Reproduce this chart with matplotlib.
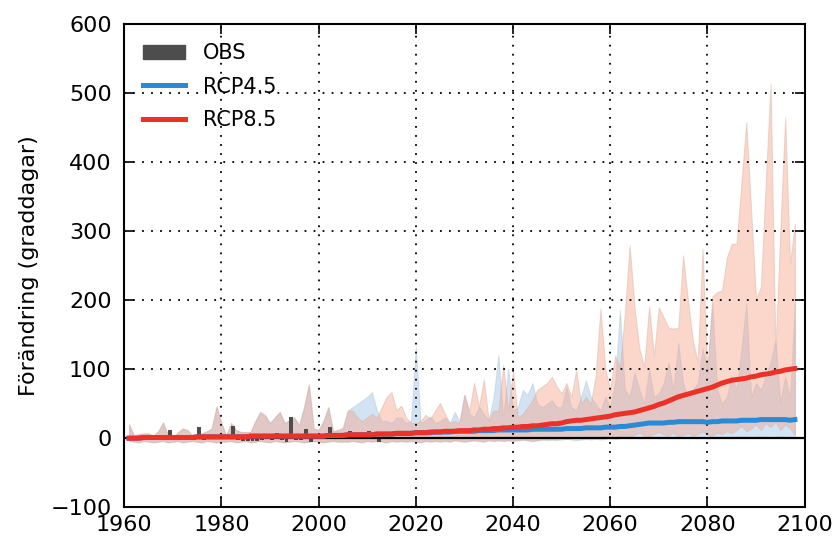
import numpy as np
import matplotlib.pyplot as plt
from matplotlib.patches import Patch
from matplotlib.lines import Line2D

# Års-data (graddagar, förändring mot referens)
ar = np.arange(1961, 2099)

# Observationer 1961-2013
obs_ar = np.arange(1961, 2014)
obs = [0, -2, 0, 1, 0, 2, 1, 0, 12, 0,
       -1, 1, 0, -2, 16, -2, 0, 0, -1, 0,
       1, 17, -2, -4, -4, -4, -4, -3, -1, -3,
       8, -2, -5, 31, -2, -3, 14, -5, -1, 0,
       0, 16, 0, 0, 1, 10, 0, 0, 0, 10,
       0, -5, 0]

# Historisk spridning (gemensam 1961-2005)
hist_hog = [20, 4, 6, 7, 7, 4, 10, 23, 4, 1,
            8, 14, 12, 4, 5, 7, 10, 14, 46, 22,
            4, 22, 12, 9, 9, 9, 25, 38, 33, 22,
            30, 38, 22, 26, 30, 19, 45, 78, 14, 12,
            25, 45, 10, 12, 15]
hist_lag = [-4, -5, -6, -4, -5, -6, -5, -4, -6, -5,
            -4, -6, -5, -4, -5, -6, -4, -5, -6, -5,
            -5, -4, -6, -5, -4, -6, -5, -4, -5, -6,
            -4, -5, -6, -5, -4, -5, -6, -5, -4, -5,
            -6, -5, -4, -5, -5]

# Scenarier 2006-2098
rcp45_hog = [40, 45, 50, 55, 60, 67, 40, 25, 25, 22,
             30, 30, 22, 25, 133, 22, 26, 32, 22, 25,
             30, 22, 38, 25, 63, 36, 30, 46, 35, 26,
             60, 121, 30, 101, 40, 45, 70, 63, 80, 50,
             45, 50, 55, 45, 45, 74, 45, 40, 60, 84,
             60, 50, 40, 60, 45, 80, 186, 70, 60, 95,
             70, 50, 100, 60, 65, 80, 110, 70, 138, 80,
             60, 70, 80, 130, 100, 195, 70, 50, 60, 90,
             70, 130, 196, 60, 80, 70, 90, 110, 142, 52,
             90, 60, 196]
rcp85_hog = [40, 40, 30, 25, 30, 35, 30, 45, 60, 67,
             41, 47, 30, 22, 22, 25, 34, 28, 40, 51,
             35, 22, 25, 22, 63, 40, 80, 46, 85, 26,
             40, 40, 106, 40, 98, 30, 35, 45, 55, 70,
             75, 80, 89, 75, 65, 80, 60, 99, 50, 60,
             50, 90, 188, 100, 70, 120, 103, 180, 280, 190,
             130, 104, 191, 120, 190, 175, 160, 159, 160, 265,
             200, 142, 110, 275, 94, 205, 212, 214, 262, 282,
             282, 370, 458, 330, 203, 219, 370, 514, 128, 300,
             465, 254, 311]
rcp45_lag = [-5, -4, -5, -6, -4, -5, -4, -5, -6, -4,
             -5, -4, -5, -4, -5, -6, -4, -5, -4, -5,
             -4, -5, -3, -4, -5, -4, -3, -4, -5, -3,
             -4, -3, -4, -3, -4, -3, -2, -3, -4, -3,
             -2, -3, -2, -3, -2, -1, -2, -3, -2, -1,
             -2, -1, -2, -1, 0, -1, 0, 1, 0, 1,
             0, 1, 2, 1, 0, 1, 2, 1, 0, 1,
             2, 1, 0, 1, 0, 1, 2, 1, 2, 1,
             2, 3, 2, 1, 2, 3, 2, 1, 2, 3,
             2, 1, 0]
rcp85_lag = [-5, -4, -5, -6, -4, -5, -4, -5, -6, -4,
             -5, -4, -5, -4, -5, -6, -4, -5, -4, -5,
             -4, -5, -3, -4, -5, -4, -3, -4, -5, -3,
             -4, -3, -4, -3, -4, -3, -2, -3, -4, -3,
             -2, -1, -2, -1, 0, -1, 0, 1, 0, 1,
             2, 1, 2, 3, 2, 1, 3, 4, 2, 5,
             8, 4, 3, 6, 9, 5, 4, 8, 3, 5,
             7, 4, 6, 10, 5, 4, 8, 6, 10, 7,
             12, 18, 10, 14, 20, 12, 22, 16, 24, 12,
             20, 14, 5]

# Medianer
median_hist = [0, 0, 0, 1, 1, 1, 1, 1, 1, 1,
               1, 1, 1, 1, 2, 2, 2, 2, 2, 2,
               2, 2, 2, 2, 2, 3, 3, 3, 3, 3,
               3, 3, 3, 3, 3, 3, 3, 3, 3, 3,
               3, 4, 4, 4, 4]
rcp45_med = [5, 5, 5, 5, 5,
             5, 6, 6, 6, 6, 7, 7, 7, 7, 8,
             8, 8, 8, 9, 9, 9, 9, 10, 10, 10,
             10, 10, 11, 11, 11, 11, 12, 12, 12, 12,
             12, 12, 12, 13, 13, 13, 13, 13, 13, 13,
             14, 14, 14, 14, 15, 15, 15, 15, 16, 16,
             16, 17, 17, 18, 19, 20, 21, 22, 22, 22,
             22, 23, 23, 24, 24, 24, 24, 24, 24, 23,
             24, 24, 25, 25, 25, 25, 26, 26, 26, 26,
             27, 27, 27, 27, 27, 27, 26, 27]
rcp85_med = [5, 5, 5, 5, 5,
             5, 6, 6, 6, 6, 7, 7, 7, 7, 8,
             8, 8, 9, 9, 9, 10, 10, 10, 11, 11,
             11, 12, 12, 13, 13, 14, 14, 15, 15, 16,
             16, 17, 17, 18, 18, 19, 20, 21, 21, 22,
             24, 25, 26, 26, 27, 28, 29, 30, 31, 32,
             34, 35, 36, 37, 38, 40, 42, 44, 46, 49,
             51, 54, 57, 60, 62, 64, 66, 68, 70, 72,
             74, 77, 80, 82, 84, 85, 86, 87, 89, 90,
             92, 93, 94, 96, 97, 99, 100, 101]

hog45 = np.array(hist_hog + rcp45_hog)
hog85 = np.array(hist_hog + rcp85_hog)
lag45 = np.array(hist_lag + rcp45_lag)
lag85 = np.array(hist_lag + rcp85_lag)
med45 = np.array(median_hist + rcp45_med)
med85 = np.array(median_hist + rcp85_med)

blue = '#2b8ad6'
red = '#ec3129'

fig = plt.figure(figsize=(8.39, 5.43), dpi=100)
ax = fig.add_axes([0.148, 0.066, 0.811, 0.889])

ax.fill_between(ar, lag45, hog45, color='#7fb0e0', alpha=0.35, lw=0.8, edgecolor='#a9bccc')
ax.fill_between(ar, lag85, hog85, color='#f4a68c', alpha=0.45, lw=0.8, edgecolor='#d9b3a8')

ax.bar(obs_ar, obs, width=0.8, align='edge', color='#4d4d4d', zorder=3)
ax.axhline(0, color='black', lw=1.6, zorder=4)

ax.plot(ar, med45, color=blue, lw=3.6, zorder=5)
ax.plot(ar, med85, color=red, lw=3.6, zorder=6)

ax.set_xlim(1960, 2100)
ax.set_ylim(-100, 600)
ax.set_xticks(range(1960, 2101, 20))
ax.set_yticks(range(-100, 601, 100))
ax.grid(True, color='black', linestyle=(0, (1, 4)), lw=1.3)
ax.set_axisbelow(False)
ax.tick_params(direction='in', top=True, right=True, labelsize=16, length=7, width=1.2)
ax.tick_params(axis='y', pad=9)
ax.tick_params(axis='x', pad=6)
for s in ax.spines.values():
    s.set_linewidth(1.5)
ax.set_ylabel('Förändring (graddagar)', fontsize=16, labelpad=8)

handles = [Patch(color='#4d4d4d', label='OBS'),
           Line2D([0], [0], color=blue, lw=3.6, label='RCP4.5'),
           Line2D([0], [0], color=red, lw=3.6, label='RCP8.5')]
ax.legend(handles=handles, loc='upper left', frameon=False, fontsize=15,
          handlelength=2.0, handletextpad=0.9, labelspacing=0.65,
          borderaxespad=0.5)

fig.savefig('out.png', dpi=100)
